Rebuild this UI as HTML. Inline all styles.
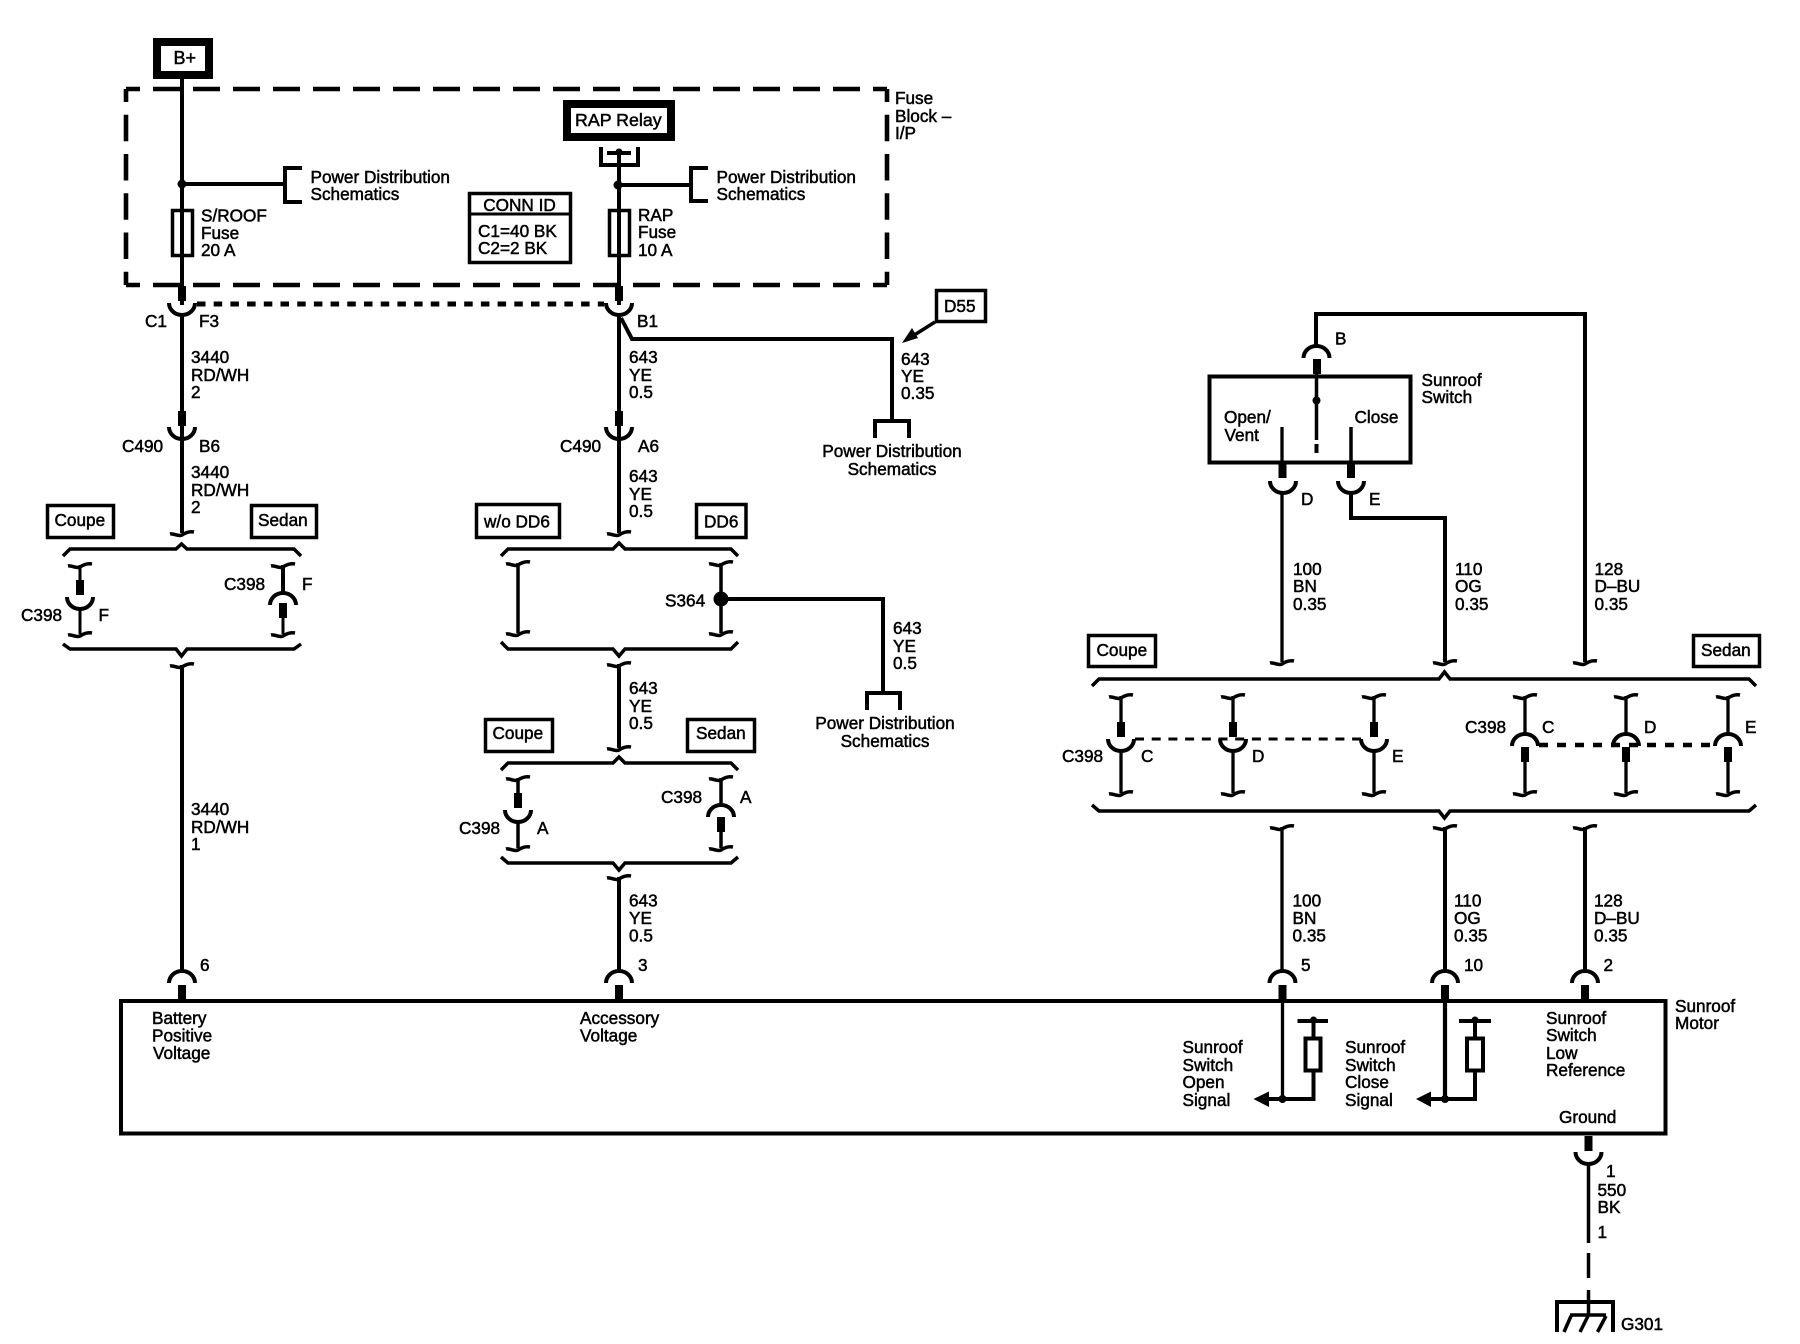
<!DOCTYPE html>
<html><head><meta charset="utf-8"><style>
html,body{margin:0;padding:0;background:#fff}
svg{display:block}
text{font-family:"Liberation Sans",sans-serif;font-size:17.2px;fill:#000;stroke:#000;stroke-width:.5}
</style></head><body>
<svg width="1800" height="1344" viewBox="0 0 1800 1344" xmlns="http://www.w3.org/2000/svg">
<rect width="1800" height="1344" fill="#fff"/>
<defs>
<path id="s" d="M-12 1C-8 0-4 4 0 2C3 0 7-2 12-1" fill="none" stroke="#000" stroke-width="3.5"/>
<path id="u" d="M-13 0A13 12 0 0 0 13 0" fill="none" stroke="#000" stroke-width="4"/>
<path id="n" d="M-13 0A13 12 0 0 1 13 0" fill="none" stroke="#000" stroke-width="4"/>
<rect id="st" x="-4" y="0" width="8" height="15" fill="#000"/>
</defs>
<g fill="none" stroke="#000" stroke-width="4">
<!-- fuse block dashed box -->
<g stroke-width="4.6">
<path d="M126 89H887M126 285H887" stroke-dasharray="27 13" stroke-dashoffset="13"/>
<path d="M126 89V285M887 89V285" stroke-dasharray="26.5 12.75" stroke-dashoffset="13.5"/>
</g>
<path d="M197 304H604" stroke-width="5" stroke-dasharray="8.5 8.2"/>
<!-- B+ -->
<rect x="157" y="42" width="52" height="33" stroke-width="8"/>
<path d="M182 79V305"/>
<path d="M182 184H285M302 168H285V202H302"/>
<rect x="172.500" y="210.500" width="20" height="45" stroke-width="3.500"/>
<!-- RAP -->
<rect x="567" y="104" width="104" height="33" stroke-width="8"/>
<path d="M601 147V165H638V147M607 153H631M619 152V305"/>
<path d="M619 185H691M708 168H691V201H708"/>
<rect x="609.500" y="210.500" width="20" height="45" stroke-width="3.500"/>
<!-- conn id -->
<rect x="469.500" y="193.500" width="101" height="69" stroke-width="3.500"/>
<path d="M469 214H571" stroke-width="3"/>
<!-- wires upper -->
<path d="M182 315V533"/>
<path d="M619 315V533"/>
<path d="M621 318L632 339H892V421"/>
<path d="M875 438V421H909V438"/>
<rect x="936.500" y="290.500" width="49" height="31" stroke-width="3.500"/>
<path d="M935 322L908 339" stroke-width="3.500"/>
<!-- left brace A -->
<path d="M63 556L70 549H176L181.500 544L187 549H294L301 556" stroke-width="3.500"/>
<path d="M63 644L70 649H176L181.500 656L187 649H294L301 644" stroke-width="3.500"/>
<rect x="47.500" y="505.500" width="66" height="32" stroke-width="3.500"/>
<rect x="251.500" y="505.500" width="65" height="32" stroke-width="3.500"/>
<path d="M80 565V582M80 607V634" stroke-width="3"/>
<path d="M283 565V595" stroke-width="4"/>
<path d="M283 618V634" stroke-width="3"/>
<path d="M182 665V972"/>
<!-- center braces -->
<rect x="476.500" y="504.500" width="83" height="33" stroke-width="3.500"/>
<rect x="696.500" y="504.500" width="49.500" height="33" stroke-width="3.500"/>
<path d="M501 556L508 549H613L619 543L625 549H731L738 556" stroke-width="3.500"/>
<path d="M501 642L508 649H613L619 656L625 649H731L738 642" stroke-width="3.500"/>
<path d="M518 563V633M721 563V633" stroke-width="3.500"/>
<path d="M721 599H883V693"/>
<path d="M867 710V693H900V710"/>
<path d="M619 664V748"/>
<rect x="485.500" y="719.500" width="67" height="32" stroke-width="3.500"/>
<rect x="687.500" y="719.500" width="67" height="32" stroke-width="3.500"/>
<path d="M501 770L508 763H613L619 757L625 763H731L738 770" stroke-width="3.500"/>
<path d="M501 857L508 863H613L619 870L625 863H731L738 857" stroke-width="3.500"/>
<path d="M518 778V795M518 822V848" stroke-width="3.500"/>
<path d="M721 778V805M721 830V848" stroke-width="3.500"/>
<path d="M619 877V972"/>
<!-- switch -->
<path d="M1316 346V314H1585V662"/>
<rect x="1209.500" y="376.500" width="201" height="86"/>
<path d="M1316.500 374V440" stroke-width="3.500"/>
<path d="M1316.500 444V453"/>
<path d="M1282 427V465" stroke-width="3.300"/>
<path d="M1351 427V465" stroke-width="3.500"/>
<path d="M1282 493V662" stroke-width="3.300"/>
<path d="M1351 493V518H1445V662"/>
<!-- right braces -->
<rect x="1088.500" y="635.500" width="67" height="31" stroke-width="3.500"/>
<rect x="1693.500" y="635.500" width="66" height="31" stroke-width="3.500"/>
<path d="M1092 686L1099 679H1439L1444.500 672L1450 679H1749L1756 686" stroke-width="3.500"/>
<path d="M1092 805L1099 811H1439L1444.500 818L1450 811H1749L1756 805" stroke-width="3.500"/>
<g stroke-width="3.300">
<path d="M1121 696V725M1121 750V793M1233 696V725M1233 750V793M1374 696V725M1374 750V793"/>
<path d="M1525 696V735M1525 760V793M1626 696V735M1626 760V793M1728 696V735M1728 760V793"/>
</g>
<path d="M1135 739H1361" stroke-width="3" stroke-dasharray="9 7.700"/>
<path d="M1539 745H1715" stroke-width="4.500" stroke-dasharray="9 9"/>
<!-- lower wires -->
<path d="M1282 827V972" stroke-width="3.300"/>
<path d="M1445 827V972"/>
<path d="M1585 827V972"/>
<!-- motor -->
<rect x="121" y="1001" width="1544.500" height="132.500"/>
<path d="M1282.500 1001V1099" stroke-width="3.300"/>
<path d="M1445 1001V1099" stroke-width="4.200"/>
<path d="M1268 1099H1313.500V1071M1313.500 1037V1021M1297.500 1021H1328"/>
<path d="M1430 1099H1475V1071M1475 1037V1021M1459 1021H1491"/>
<rect x="1305.500" y="1038.500" width="15" height="32"/>
<rect x="1467" y="1038.500" width="16" height="32"/>
<!-- ground -->
<path d="M1588.500 1164V1243" stroke-width="3.500"/>
<path d="M1588.500 1253V1278" stroke-width="3.500"/>
<path d="M1588.500 1290V1314" stroke-width="3.500"/>
<path d="M1557 1332V1302H1613V1332"/>
<path d="M1570 1315H1606M1571 1316L1564 1332M1588 1316L1580 1332M1606 1316L1597.500 1332" stroke-width="3.500"/>
</g>
<!-- dots -->
<g fill="#000">
<circle cx="182" cy="184" r="4.500"/>
<circle cx="618" cy="185" r="4.500"/>
<circle cx="619" cy="152" r="3.500"/>
<circle cx="721" cy="599" r="7.500"/>
<circle cx="1316.500" cy="400.500" r="4"/>
<circle cx="1282.500" cy="1099" r="4"/>
<circle cx="1445" cy="1099" r="4"/>
<circle cx="1313.500" cy="1020" r="3.500"/>
<circle cx="1475" cy="1020" r="3.500"/>
<path d="M902 343L912 328L918 338Z"/>
<path d="M1253.500 1099L1269 1091.500V1107Z"/>
<path d="M1416 1099L1431 1091.500V1107Z"/>
</g>
<!-- arcs -->
<use href="#u" x="182" y="303"/><use href="#u" x="619" y="303"/>
<use href="#u" x="182" y="427"/><use href="#u" x="619" y="427"/>
<use href="#u" x="80" y="597"/><use href="#n" x="283" y="605"/>
<use href="#u" x="518" y="810"/><use href="#n" x="721" y="817"/>
<use href="#n" x="1316.500" y="358"/><use href="#u" x="1283" y="481"/><use href="#u" x="1351" y="481"/>
<use href="#u" x="1121" y="739"/><use href="#u" x="1233" y="739"/><use href="#u" x="1374" y="739"/>
<use href="#n" x="1525" y="746"/><use href="#n" x="1626" y="746"/><use href="#n" x="1728" y="746"/>
<use href="#n" x="182" y="983"/><use href="#n" x="619" y="983"/><use href="#n" x="1282.500" y="983"/><use href="#n" x="1445" y="983"/><use href="#n" x="1585" y="983"/>
<use href="#u" x="1588.500" y="1152"/>
<!-- stubs -->
<use href="#st" x="182" y="286"/><use href="#st" x="619" y="286"/>
<use href="#st" x="182" y="411"/><use href="#st" x="619" y="411"/>
<use href="#st" x="80" y="580"/><use href="#st" x="283" y="603"/>
<use href="#st" x="518" y="793"/><use href="#st" x="721" y="817"/>
<use href="#st" x="1317" y="359"/><use href="#st" x="1282.500" y="463"/><use href="#st" x="1351" y="463"/>
<use href="#st" x="1121" y="722"/><use href="#st" x="1233" y="722"/><use href="#st" x="1374" y="722"/>
<use href="#st" x="1525" y="747"/><use href="#st" x="1626" y="747"/><use href="#st" x="1728" y="747"/>
<use href="#st" x="182" y="985"/><use href="#st" x="619" y="985"/><use href="#st" x="1282.500" y="985"/><use href="#st" x="1445" y="985"/><use href="#st" x="1585" y="985"/>
<use href="#st" x="1588.500" y="1136"/>
<!-- squiggles -->
<use href="#s" x="182" y="533"/><use href="#s" x="182" y="665"/>
<use href="#s" x="80" y="565"/><use href="#s" x="80" y="634"/><use href="#s" x="283" y="565"/><use href="#s" x="283" y="634"/>
<use href="#s" x="619" y="533"/><use href="#s" x="619" y="664"/><use href="#s" x="619" y="748"/><use href="#s" x="619" y="877"/>
<use href="#s" x="518" y="563"/><use href="#s" x="518" y="633"/><use href="#s" x="721" y="563"/><use href="#s" x="721" y="633"/>
<use href="#s" x="518" y="778"/><use href="#s" x="518" y="848"/><use href="#s" x="721" y="778"/><use href="#s" x="721" y="848"/>
<use href="#s" x="1282" y="662"/><use href="#s" x="1445" y="662"/><use href="#s" x="1585" y="662"/>
<use href="#s" x="1282" y="827"/><use href="#s" x="1445" y="827"/><use href="#s" x="1585" y="827"/>
<use href="#s" x="1121" y="696"/><use href="#s" x="1233" y="696"/><use href="#s" x="1374" y="696"/><use href="#s" x="1525" y="696"/><use href="#s" x="1626" y="696"/><use href="#s" x="1728" y="696"/>
<use href="#s" x="1121" y="793"/><use href="#s" x="1233" y="793"/><use href="#s" x="1374" y="793"/><use href="#s" x="1525" y="793"/><use href="#s" x="1626" y="793"/><use href="#s" x="1728" y="793"/>
<!-- text -->
<text x="173.500" y="64" style="font-size:18px">B+</text>
<text x="575" y="126" style="font-size:17.800px">RAP Relay</text>
<text x="895" y="104">Fuse</text><text x="895" y="122">Block –</text><text x="895" y="139">I/P</text>
<text x="310.500" y="183">Power Distribution</text><text x="310.500" y="200">Schematics</text>
<text x="716.500" y="183">Power Distribution</text><text x="716.500" y="200">Schematics</text>
<text x="201" y="221.500">S/ROOF</text><text x="201" y="239">Fuse</text><text x="201" y="256">20 A</text>
<text x="638" y="221">RAP</text><text x="638" y="238">Fuse</text><text x="638" y="256">10 A</text>
<text x="519.500" y="211" text-anchor="middle">CONN ID</text>
<text x="478" y="237">C1=40 BK</text><text x="478" y="254">C2=2 BK</text>
<text x="145" y="327">C1</text><text x="199" y="327">F3</text><text x="637" y="327">B1</text>
<text x="191" y="363">3440</text><text x="191" y="381">RD/WH</text><text x="191" y="398">2</text>
<text x="122" y="452">C490</text><text x="199" y="452">B6</text>
<text x="191" y="478">3440</text><text x="191" y="496">RD/WH</text><text x="191" y="513">2</text>
<text x="54.500" y="526">Coupe</text><text x="258" y="526">Sedan</text>
<text x="224" y="590">C398</text><text x="302" y="590">F</text>
<text x="21" y="621">C398</text><text x="98.500" y="621">F</text>
<text x="191" y="815">3440</text><text x="191" y="833">RD/WH</text><text x="191" y="850">1</text>
<text x="629" y="363">643</text><text x="629" y="381">YE</text><text x="629" y="398">0.5</text>
<text x="560" y="452">C490</text><text x="638" y="452">A6</text>
<text x="629" y="482">643</text><text x="629" y="500">YE</text><text x="629" y="517">0.5</text>
<text x="901" y="365">643</text><text x="901" y="382">YE</text><text x="901" y="399">0.35</text>
<text x="944" y="312">D55</text>
<text x="892" y="457" text-anchor="middle">Power Distribution</text><text x="892" y="475" text-anchor="middle">Schematics</text>
<text x="484" y="527.500">w/o DD6</text><text x="704" y="527.500">DD6</text>
<text x="665" y="606.500">S364</text>
<text x="893" y="634">643</text><text x="893" y="652">YE</text><text x="893" y="669">0.5</text>
<text x="885" y="729" text-anchor="middle">Power Distribution</text><text x="885" y="747" text-anchor="middle">Schematics</text>
<text x="629" y="694">643</text><text x="629" y="712">YE</text><text x="629" y="729">0.5</text>
<text x="492.500" y="739">Coupe</text><text x="696" y="739">Sedan</text>
<text x="661" y="803">C398</text><text x="740" y="803">A</text>
<text x="459" y="834">C398</text><text x="537" y="834">A</text>
<text x="629" y="906.500">643</text><text x="629" y="924">YE</text><text x="629" y="941.500">0.5</text>
<text x="1335" y="344.500">B</text>
<text x="1421.500" y="386">Sunroof</text><text x="1421.500" y="403">Switch</text>
<text x="1224" y="423">Open/</text><text x="1224.500" y="441">Vent</text><text x="1354.500" y="423">Close</text>
<text x="1301" y="505">D</text><text x="1369" y="505">E</text>
<text x="1293" y="575">100</text><text x="1293" y="592">BN</text><text x="1293" y="610">0.35</text>
<text x="1455" y="575">110</text><text x="1455" y="592">OG</text><text x="1455" y="610">0.35</text>
<text x="1594.500" y="575">128</text><text x="1594.500" y="592">D–BU</text><text x="1594.500" y="610">0.35</text>
<text x="1096.500" y="656">Coupe</text><text x="1701" y="656">Sedan</text>
<text x="1062" y="762">C398</text><text x="1141" y="762">C</text><text x="1252" y="762">D</text><text x="1392" y="762">E</text>
<text x="1465" y="733">C398</text><text x="1542" y="733">C</text><text x="1644" y="733">D</text><text x="1745" y="733">E</text>
<text x="1292.500" y="906.500">100</text><text x="1292.500" y="924">BN</text><text x="1292.500" y="941.500">0.35</text>
<text x="1454" y="906.500">110</text><text x="1454" y="924">OG</text><text x="1454" y="941.500">0.35</text>
<text x="1594" y="906.500">128</text><text x="1594" y="924">D–BU</text><text x="1594" y="941.500">0.35</text>
<text x="200" y="971">6</text><text x="638" y="971">3</text><text x="1301" y="971">5</text><text x="1464" y="971">10</text><text x="1603.500" y="971">2</text>
<text x="1675" y="1012">Sunroof</text><text x="1675" y="1029">Motor</text>
<text x="152" y="1024">Battery</text><text x="152" y="1041.500">Positive</text><text x="153" y="1059">Voltage</text>
<text x="580" y="1024">Accessory</text><text x="580" y="1041.500">Voltage</text>
<text x="1182.500" y="1053">Sunroof</text><text x="1182.500" y="1071">Switch</text><text x="1182.500" y="1088">Open</text><text x="1182.500" y="1106">Signal</text>
<text x="1345" y="1053">Sunroof</text><text x="1345" y="1071">Switch</text><text x="1345" y="1088">Close</text><text x="1345" y="1106">Signal</text>
<text x="1546" y="1024">Sunroof</text><text x="1546" y="1041">Switch</text><text x="1546" y="1059">Low</text><text x="1546" y="1076">Reference</text>
<text x="1559" y="1123">Ground</text>
<text x="1606" y="1177">1</text><text x="1597.500" y="1196">550</text><text x="1597.500" y="1213">BK</text><text x="1597.500" y="1238">1</text>
<text x="1621" y="1330">G301</text>
</svg>
</body></html>
